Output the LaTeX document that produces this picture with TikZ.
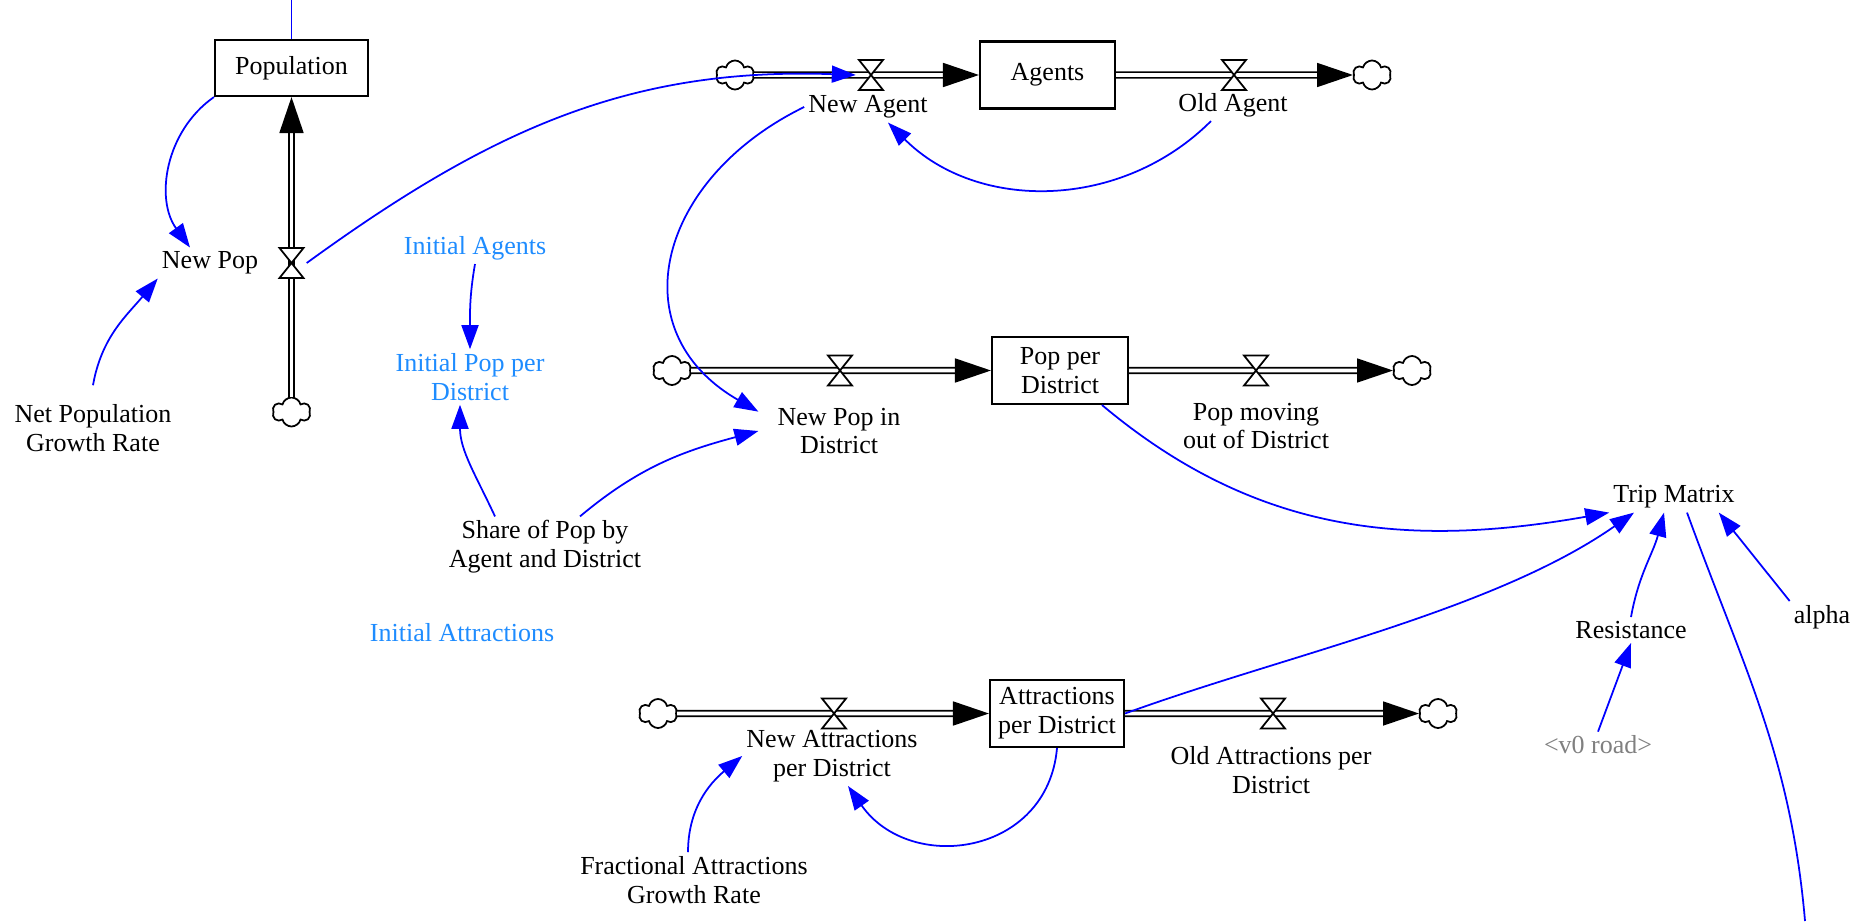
\documentclass[tikz,border=0pt]{standalone}
\usepackage{fontspec}
\setmainfont{Liberation Serif}
\usepackage{xcolor}
\definecolor{Link}{RGB}{0,0,255}
\definecolor{Shadow}{RGB}{30,140,255}
\definecolor{Grey}{RGB}{128,128,128}
\usepackage{tikz}
\usetikzlibrary{arrows.meta, shapes.symbols}

\begin{document}
\begin{tikzpicture}[
  font=\fontsize{7.4}{8.2}\selectfont,
  stockbox/.style={draw, line width=0.6pt, align=center, inner sep=1pt},
  var/.style={align=center, inner sep=1pt},
  shadowvar/.style={var, text=Shadow},
  greyvar/.style={var, text=Grey},
  cloudsym/.style={cloud, cloud puffs=6, cloud ignores aspect, draw, fill=white, line width=0.5pt, minimum width=3.8mm, minimum height=2.9mm, inner sep=0},
  valve/.style={minimum width=2.9mm, minimum height=3.4mm, inner sep=0,
    path picture={\filldraw[fill=white, line width=0.5pt, shift={(path picture bounding box.center)}]
      (-1.2mm,1.5mm) -- (1.2mm,1.5mm) -- (0,0) -- cycle
      (-1.2mm,-1.5mm) -- (1.2mm,-1.5mm) -- (0,0) -- cycle;}},
  pipe/.style={draw, line width=0.5pt, double, double distance=1.1pt},
  pipehead/.style={line width=0.5pt, -{Triangle[length=3.6mm, width=2.4mm]}},
  link/.style={draw=Link, line width=0.5pt, -{Triangle[length=2.4mm, width=1.7mm]}},
  wire/.style={draw=Link, line width=0.5pt}
]
  \useasboundingbox (0,0) rectangle (18.63,-9.21);

  % Stocks
  \node[stockbox, minimum width=1.53cm, minimum height=0.56cm] (population) at (2.915,-0.68) {Population};
  \node[stockbox, minimum width=1.35cm, minimum height=0.67cm] (agents) at (10.475,-0.75) {Agents};
  \node[stockbox, minimum width=1.36cm, minimum height=0.67cm] (poppd) at (10.60,-3.705) {Pop per\\District};
  \node[stockbox, minimum width=1.34cm, minimum height=0.67cm] (attr) at (10.57,-7.135) {Attractions\\per District};

  % Clouds
  \node[cloudsym] (cpop) at (2.915,-4.12) {};
  \node[cloudsym] (cag1) at (7.35,-0.75) {};
  \node[cloudsym] (cag2) at (13.72,-0.75) {};
  \node[cloudsym] (cpd1) at (6.72,-3.705) {};
  \node[cloudsym] (cpd2) at (14.12,-3.705) {};
  \node[cloudsym] (cat1) at (6.58,-7.135) {};
  \node[cloudsym] (cat2) at (14.38,-7.135) {};

  % Flows
  \draw[pipe] (cpop.north) -- ([yshift=-3.5mm]population.south);
  \draw[pipehead] ([yshift=-3.5mm]population.south) -- (population.south);
  \draw[pipe] (cag1.east) -- ([xshift=-3.6mm]agents.west);
  \draw[pipehead] ([xshift=-3.6mm]agents.west) -- (agents.west);
  \draw[pipe] (agents.east) -- ([xshift=-3.6mm]cag2.west);
  \draw[pipehead] ([xshift=-3.6mm]cag2.west) -- (cag2.west);
  \draw[pipe] (cpd1.east) -- ([xshift=-3.6mm]poppd.west);
  \draw[pipehead] ([xshift=-3.6mm]poppd.west) -- (poppd.west);
  \draw[pipe] (poppd.east) -- ([xshift=-3.6mm]cpd2.west);
  \draw[pipehead] ([xshift=-3.6mm]cpd2.west) -- (cpd2.west);
  \draw[pipe] (cat1.east) -- ([xshift=-3.6mm]attr.west);
  \draw[pipehead] ([xshift=-3.6mm]attr.west) -- (attr.west);
  \draw[pipe] (attr.east) -- ([xshift=-3.6mm]cat2.west);
  \draw[pipehead] ([xshift=-3.6mm]cat2.west) -- (cat2.west);

  % Valves
  \node[valve] (vnewpop) at (2.915,-2.63) {};
  \node[valve] (vnewagent) at (8.71,-0.75) {};
  \node[valve] (voldagent) at (12.34,-0.75) {};
  \node[valve] (vnewpd) at (8.40,-3.705) {};
  \node[valve] (voutpd) at (12.56,-3.705) {};
  \node[valve] (vnewat) at (8.34,-7.135) {};
  \node[valve] (voldat) at (12.73,-7.135) {};

  % Text
  \node[var] (lnewpop) at (2.10,-2.63) {New Pop};
  \node[var] (lnetpop) at (0.93,-4.28) {Net Population\\Growth Rate};
  \node[shadowvar] (linitag) at (4.75,-2.48) {Initial Agents};
  \node[shadowvar] (linitpop) at (4.70,-3.77) {Initial Pop per\\District};
  \node[var] (lshare) at (5.45,-5.47) {Share of Pop by\\Agent and District};
  \node[shadowvar] (linitatt) at (4.62,-6.33) {Initial Attractions};
  \node[var] (lnewagent) at (8.68,-1.07) {New Agent};
  \node[var] (loldagent) at (12.33,-1.05) {Old Agent};
  \node[var] (lnewpd) at (8.39,-4.31) {New Pop in\\District};
  \node[var] (loutpd) at (12.56,-4.26) {Pop moving\\out of District};
  \node[var] (lnewat) at (8.32,-7.56) {New Attractions\\per District};
  \node[var] (loldat) at (12.71,-7.70) {Old Attractions per\\District};
  \node[var] (lfrac) at (6.94,-8.80) {Fractional Attractions\\Growth Rate};
  \node[var] (ltrip) at (16.74,-4.97) {Trip Matrix};
  \node[var] (lres) at (16.31,-6.30) {Resistance};
  \node[greyvar] (lv0) at (15.98,-7.45) {<v0 road>};
  \node[var] (lalpha) at (18.22,-6.17) {alpha};

  \coordinate (popin) at (2.915,0);
  \coordinate (tripout) at (18.05,-9.21);

  % Links
  \draw[wire] (popin) -- (population.north);
  \draw[link] (population.south west) to[out=215, in=126] ([xshift=-2mm]lnewpop.north);
  \draw[link] ([yshift=1.5mm]lnetpop.north) to[out=80, in=230] (lnewpop.south west);
  \draw[link] (vnewpop.east) to[out=36, in=178] (vnewagent.west);
  \draw[link] ([xshift=-2.2mm]loldagent.south) to[out=225, in=-45] ([xshift=2mm]lnewagent.south);
  \draw[link] (lnewagent.west) to[out=206, in=150, looseness=1.35] ([xshift=-1.5mm, yshift=-0.8mm]lnewpd.north west);
  \draw[link] (linitag.south) to[out=-100, in=90] (linitpop.north);
  \draw[link] ([xshift=-5mm]lshare.north) to[out=115, in=-90] ([xshift=-1mm]linitpop.south);
  \draw[link] ([xshift=3.5mm]lshare.north) to[out=40, in=195] ([xshift=-1.5mm]lnewpd.west);
  \draw[link] ([xshift=4.2mm]poppd.south) to[out=-40, in=190] (ltrip.south west);
  \draw[link] (attr.east) to[out=20, in=215, looseness=0.8] ([xshift=-4mm]ltrip.south);
  \draw[link] (lres.north) to[out=80, in=-105] ([xshift=-1mm]ltrip.south);
  \draw[link] (lv0.north) -- (lres.south);
  \draw[link] (lalpha.north west) -- ([xshift=-2mm]ltrip.south east);
  \draw[link] ([xshift=-0.6mm]lfrac.north) to[out=90, in=220] (lnewat.west);
  \draw[link] (attr.south) to[out=-95, in=-55, looseness=1.3] ([xshift=1.6mm]lnewat.south);
  \draw[wire] ([xshift=1.3mm]ltrip.south) to[out=-70, in=95] (tripout);

\end{tikzpicture}
\end{document}
